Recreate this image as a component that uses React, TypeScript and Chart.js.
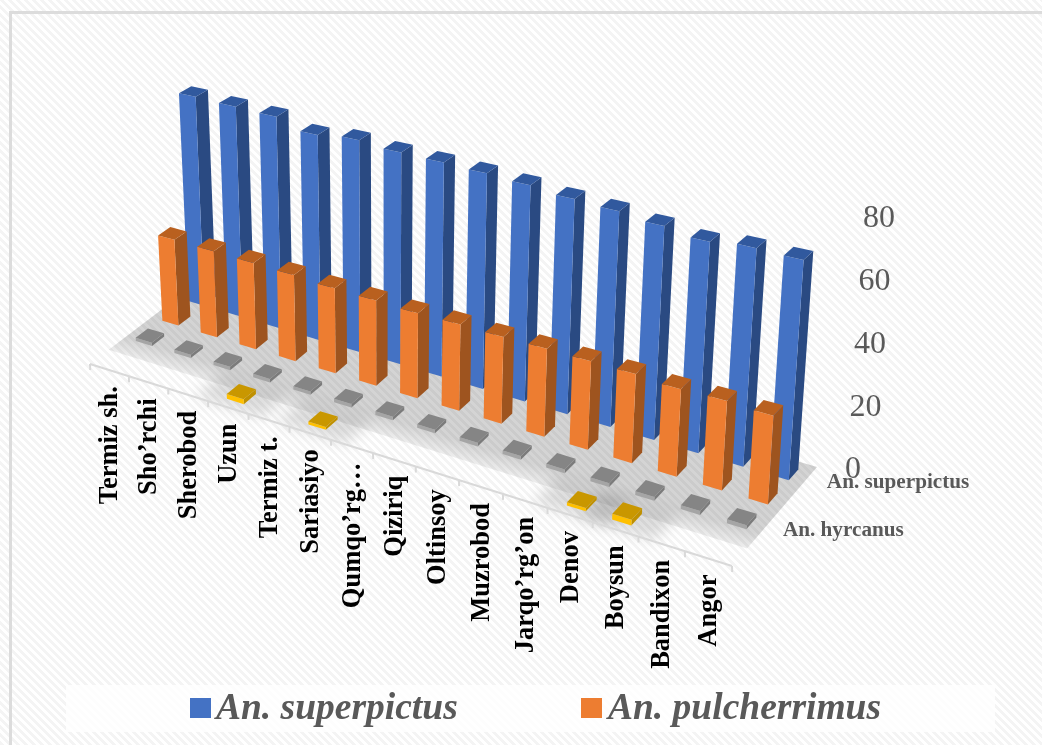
import React, { useEffect, useRef } from "react";
import { Chart, registerables } from "chart.js";

Chart.register(...registerables);

const districts = ["Termiz sh.", "Sho’rchi", "Sherobod", "Uzun", "Termiz t.", "Sariasiyo", "Qumqo’rg…", "Qiziriq", "Oltinsoy", "Muzrobod", "Jarqo’rg’on", "Denov", "Boysun", "Bandixon", "Angor"];
const superpictus = [80, 79.5, 79, 75.5, 76.8, 75.7, 75.4, 74.9, 74.1, 72.7, 71.9, 70.3, 68.5, 69.8, 69.4];
const pulcherrimus = [32.2, 31.9, 31.5, 31, 30.2, 29.8, 29.3, 29.4, 29.1, 29.1, 28.9, 28.7, 27.8, 28, 27.4];
const hyrcanus = [1.2, 1.2, 1.2, 1.2, 1.2, 1.2, 1.2, 1.2, 1.2, 1.2, 1.2, 1.2, 1.2, 1.2, 1.2];
const otherSpecies = [0, 0, 0, 1.7, 0, 1, 0, 0, 0, 0, 0, 1, 1.8, 0, 0];
const valueTicks = [0, 20, 40, 60, 80];

type Pt = { x: number; y: number };
type Faces = { front: string; side: string; top: string };

const pt = (x: number, y: number): Pt => ({ x, y });

// Camera: where the box of the plot lands on the canvas, floor and ceiling.
const FLOOR = [pt(196, 283.5), pt(817, 467), pt(732, 566), pt(90, 364)];
const CEILING = [pt(187, 79.7), pt(835, 215.7), pt(747.3, 293.2), pt(75.6, 143.2)];
const ROWS = 4;
const BAR_DEPTH = 0.46;
const SERIF = '"Liberation Serif", "Times New Roman", serif';

function planeMap(q: Pt[]) {
  const [p0, p1, p2, p3] = q;
  const dx1 = p1.x - p2.x, dx2 = p3.x - p2.x, sx = p0.x - p1.x + p2.x - p3.x;
  const dy1 = p1.y - p2.y, dy2 = p3.y - p2.y, sy = p0.y - p1.y + p2.y - p3.y;
  const den = dx1 * dy2 - dx2 * dy1;
  const g = (sx * dy2 - dx2 * sy) / den;
  const h = (dx1 * sy - sx * dy1) / den;
  const a = p1.x - p0.x + g * p1.x, b = p3.x - p0.x + h * p3.x;
  const d = p1.y - p0.y + g * p1.y, e = p3.y - p0.y + h * p3.y;
  return (u: number, v: number): Pt => {
    const k = g * u + h * v + 1;
    return pt((a * u + b * v + p0.x) / k, (d * u + e * v + p0.y) / k);
  };
}

const floorAt = planeMap(FLOOR);
const ceilingAt = planeMap(CEILING);

function project(u: number, v: number, w: number): Pt {
  const f = floorAt(u, v);
  const c = ceilingAt(u, v);
  return pt(f.x + (c.x - f.x) * w, f.y + (c.y - f.y) * w);
}

function fillPoly(ctx: CanvasRenderingContext2D, pts: Pt[], fill: string | CanvasGradient | CanvasPattern) {
  ctx.beginPath();
  pts.forEach((p, i) => (i ? ctx.lineTo(p.x, p.y) : ctx.moveTo(p.x, p.y)));
  ctx.closePath();
  ctx.fillStyle = fill;
  ctx.fill();
}

function hatch(ctx: CanvasRenderingContext2D) {
  const tile = document.createElement("canvas");
  tile.width = tile.height = 8;
  const t = tile.getContext("2d")!;
  for (let y = 0; y < 8; y++) {
    for (let x = 0; x < 8; x++) {
      const k = (x - y + 16) % 8;
      t.fillStyle = k < 4 ? "#f4f4f4" : "#ffffff";
      t.fillRect(x, y, 1, 1);
    }
  }
  return ctx.createPattern(tile, "repeat")!;
}

function drawFloor(chart: any) {
  const { ctx } = chart;
  const edge = 0.83;
  const a = floorAt(0, edge), b = floorAt(1, edge);
  const len = Math.hypot(b.x - a.x, b.y - a.y);
  const n = pt(-(b.y - a.y) / len, (b.x - a.x) / len);
  const start = floorAt(0.5, 0.68);
  const span = 30;
  const grad = ctx.createLinearGradient(start.x, start.y, start.x + n.x * span, start.y + n.y * span);
  grad.addColorStop(0, "rgba(0,0,0,0.17)");
  grad.addColorStop(1, "rgba(0,0,0,0)");
  fillPoly(ctx, [floorAt(0, 0), floorAt(1, 0), b, a], grad);

  // Soft pools of shade beneath the shortest front-row bars.
  const meta = chart.getDatasetMeta(3);
  const area = chart.chartArea;
  ctx.save();
  ctx.filter = "blur(7px)";
  meta.data.forEach((bar: any, i: number) => {
    if (!otherSpecies[i]) return;
    const u = (bar.x - area.left) / area.width;
    const s = 0.055;
    fillPoly(ctx, [floorAt(u - s, 0.74), floorAt(u + s, 0.74), floorAt(u + s, 0.99), floorAt(u - s, 0.99)], "rgba(0,0,0,0.13)");
  });
  ctx.restore();
}

function drawAxisLine(chart: any) {
  const { ctx } = chart;
  ctx.save();
  ctx.strokeStyle = "#d9d9d9";
  ctx.lineWidth = 2;
  const a = floorAt(0, 1), b = floorAt(1, 1);
  ctx.beginPath();
  ctx.moveTo(a.x, a.y);
  ctx.lineTo(b.x, b.y);
  const n = districts.length;
  for (let i = 0; i <= n; i++) {
    const p = floorAt(i / n, 1);
    ctx.moveTo(p.x, p.y);
    ctx.lineTo(p.x + 0.2, p.y + 6);
  }
  ctx.stroke();
  ctx.restore();
}

function drawPrism(ctx: CanvasRenderingContext2D, u1: number, u2: number, v1: number, v2: number, w: number, c: Faces) {
  fillPoly(ctx, [project(u2, v2, 0), project(u2, v1, 0), project(u2, v1, w), project(u2, v2, w)], c.side);
  fillPoly(ctx, [project(u1, v2, 0), project(u2, v2, 0), project(u2, v2, w), project(u1, v2, w)], c.front);
  fillPoly(ctx, [project(u1, v2, w), project(u2, v2, w), project(u2, v1, w), project(u1, v1, w)], c.top);
}

const prismPlugin = {
  id: "prisms",
  beforeDraw(chart: any) {
    const { ctx, width, height } = chart;
    ctx.save();
    ctx.fillStyle = hatch(ctx);
    ctx.fillRect(0, 0, width, height);
    ctx.strokeStyle = "#dcdcdc";
    ctx.lineWidth = 3;
    ctx.beginPath();
    ctx.moveTo(10.5, height);
    ctx.lineTo(10.5, 12.5);
    ctx.lineTo(width, 12.5);
    ctx.stroke();
    ctx.fillStyle = "rgba(255,255,255,0.8)";
    ctx.fillRect(66, 685, 929, 47);
    ctx.restore();
  },
  beforeDatasetsDraw(chart: any) {
    drawFloor(chart);
    drawAxisLine(chart);
  },
  beforeDatasetDraw(chart: any, args: any) {
    const { ctx, chartArea: area, scales } = chart;
    const ds = chart.data.datasets[args.index];
    const zero = scales.y.getPixelForValue(0);
    const top = scales.y.getPixelForValue(80);
    const v1 = (ds.row + 0.5 - BAR_DEPTH / 2) / ROWS;
    const v2 = (ds.row + 0.5 + BAR_DEPTH / 2) / ROWS;
    ctx.save();
    args.meta.data.forEach((bar: any, i: number) => {
      if (!ds.data[i]) return;
      const { x, y, width } = bar.getProps(["x", "y", "width"], true);
      drawPrism(
        ctx,
        (x - width / 2 - area.left) / area.width,
        (x + width / 2 - area.left) / area.width,
        v1,
        v2,
        (zero - y) / (zero - top),
        ds.faces,
      );
    });
    ctx.restore();
    return false;
  },
  afterDatasetsDraw(chart: any) {
    const { ctx, scales } = chart;
    ctx.save();

    // Value axis, running up the back right corner of the box.
    ctx.fillStyle = "#595959";
    ctx.font = `32px ${SERIF}`;
    ctx.textAlign = "left";
    ctx.textBaseline = "middle";
    const zero = scales.y.getPixelForValue(0);
    const top = scales.y.getPixelForValue(80);
    scales.y.ticks.forEach((t: any) => {
      const p = project(1, 0, (zero - scales.y.getPixelForValue(t.value)) / (zero - top));
      ctx.fillText(String(t.value), p.x + 28, p.y + 3);
    });

    // Depth axis names every other row.
    ctx.font = `bold 21.2px ${SERIF}`;
    [0, 2].forEach((row) => {
      const p = floorAt(1, (row + 0.5) / ROWS);
      ctx.fillText(chart.data.datasets[row].label, p.x + (row ? 18 : 20), p.y + (row ? 3 : 4));
    });

    // Category names hang below the front edge, reading upwards.
    ctx.fillStyle = "#000000";
    ctx.font = `bold 26.5px ${SERIF}`;
    ctx.textAlign = "right";
    districts.forEach((name, i) => {
      const p = floorAt((i + 0.5) / districts.length, 1);
      ctx.save();
      ctx.translate(p.x + 1, p.y + 16);
      ctx.rotate(-Math.PI / 2);
      ctx.fillText(scales.x.getLabelForValue(i) || name, 0, 0);
      ctx.restore();
    });

    // Key for the two tall series.
    ctx.font = `italic bold 37.5px ${SERIF}`;
    ctx.textAlign = "left";
    [{ row: 0, x: 190, tx: 216 }, { row: 1, x: 581, tx: 608 }].forEach(({ row, x, tx }) => {
      const ds = chart.data.datasets[row];
      ctx.fillStyle = ds.faces.front;
      ctx.fillRect(x, 698, 21, 20);
      ctx.fillStyle = "#595959";
      ctx.fillText(ds.label, tx, 709);
    });
    ctx.restore();
  },
};

export default function App() {
  const ref = useRef<HTMLCanvasElement | null>(null);

  useEffect(() => {
    const chart = new Chart(ref.current!, {
      type: "bar",
      data: {
        labels: districts,
        datasets: [
          { label: "An. superpictus", data: superpictus, order: 3, row: 0, faces: { front: "#4472c4", side: "#2a4a82", top: "#31599e" } },
          { label: "An. pulcherrimus", data: pulcherrimus, order: 2, row: 1, faces: { front: "#ed7d31", side: "#9e541f", top: "#b9601f" } },
          { label: "An. hyrcanus", data: hyrcanus, order: 1, row: 2, faces: { front: "#a5a5a5", side: "#7b7b7b", top: "#858585" } },
          { label: "Boshqa turlar", data: otherSpecies, order: 0, row: 3, faces: { front: "#ffc000", side: "#bf9000", top: "#c99700" } },
        ] as any,
      },
      options: {
        responsive: false,
        animation: false,
        layout: { padding: 0 },
        datasets: { bar: { grouped: false, categoryPercentage: 1, barPercentage: 0.42 } },
        plugins: { legend: { display: false }, tooltip: { enabled: false } },
        scales: {
          x: { display: false },
          y: {
            display: false,
            min: 0,
            max: 80,
            afterBuildTicks: (axis: any) => {
              axis.ticks = valueTicks.map((value) => ({ value }));
            },
          },
        },
      } as any,
      plugins: [prismPlugin],
    });
    return () => chart.destroy();
  }, []);

  return <canvas ref={ref} width={1042} height={745} style={{ position: "fixed", left: 0, top: 0, display: "block" }} />;
}
